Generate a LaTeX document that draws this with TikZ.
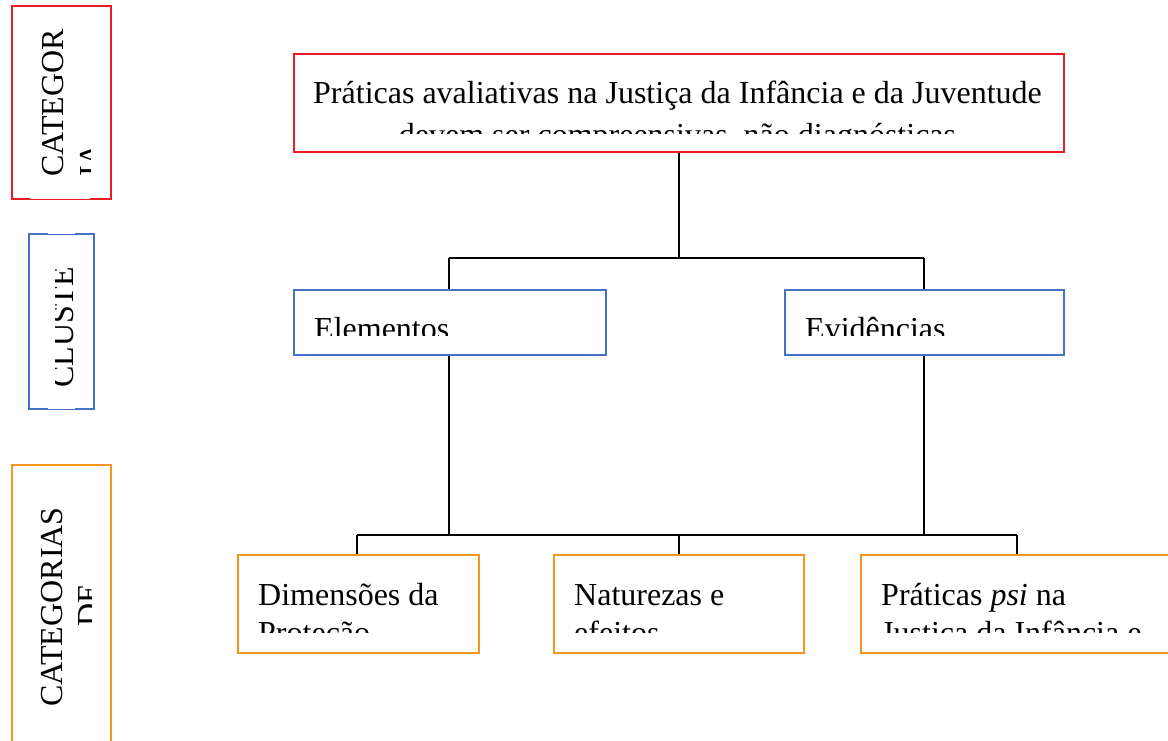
\documentclass[tikz,border=0pt]{standalone}
\usepackage{fontspec}
\setmainfont{Liberation Serif}
\definecolor{bred}{RGB}{237,28,36}
\definecolor{bblue}{RGB}{68,114,196}
\definecolor{borange}{RGB}{247,150,30}
\begin{document}
\begin{tikzpicture}[x=1pt,y=-1pt,
  box/.style={draw, line width=1.5pt, inner sep=0pt, anchor=north west},
  txt/.style={font=\fontsize{32}{38}\selectfont, inner sep=0pt, anchor=base west},
  ttxt/.style={font=\fontsize{32}{38}\selectfont, inner sep=0pt, anchor=base},
  link/.style={draw=black, line width=1.5pt},
  gap/.style={draw=white, line width=2.2pt}]
\clip (0,0) rectangle (1168,740);
\fill[white] (0,0) rectangle (1168,740);

% side boxes
\node[box, draw=bred, minimum width=99pt, minimum height=193pt] (sred) at (11,5) {};
\node[box, draw=bblue, minimum width=65pt, minimum height=175pt] (sblue) at (28,233) {};
\node[box, draw=borange, minimum width=99pt, minimum height=300pt] (sorange) at (11,464) {};

\begin{scope}
  \clip (12,6) rectangle (90,197);
  \node[txt, rotate=90] (sr1) at (63,177) {CATEGOR};
  \node[txt, rotate=90] (sr2) at (101,177) {IA};
\end{scope}
\begin{scope}
  \clip (55,234) rectangle (92,407);
  \node[txt, rotate=90] (sb1) at (73,388) {CLUSTE};
\end{scope}
\begin{scope}
  \clip (12,465) rectangle (91,740);
  \node[txt, rotate=90, anchor=base] (so1) at (62,607) {CATEGORIAS};
  \node[txt, rotate=90, anchor=base] (so2) at (99,605) {DE};
\end{scope}
\draw[gap] (30,198) -- (90,198);
\draw[gap] (48,233) -- (75,233);
\draw[gap] (48,408) -- (75,408);

% main boxes
\node[box, draw=bred, minimum width=770pt, minimum height=98pt] (title) at (293,53) {};
\node[box, draw=bblue, minimum width=312pt, minimum height=65pt] (elem) at (293,289) {};
\node[box, draw=bblue, minimum width=279pt, minimum height=65pt] (evid) at (784,289) {};
\node[box, draw=borange, minimum width=241pt, minimum height=98pt] (dim) at (237,554) {};
\node[box, draw=borange, minimum width=250pt, minimum height=98pt] (nat) at (553,554) {};
\node[box, draw=borange, minimum width=330pt, minimum height=98pt] (prat) at (860,554) {};

% texts
\begin{scope}
  \clip (294,54) rectangle (1062,133);
  \node[ttxt] (t1) at (677.5,103) {Práticas avaliativas na Justiça da Infância e da Juventude};
  \node[ttxt] (t2) at (677.5,145) {devem ser compreensivas, não diagnósticas};
\end{scope}
\begin{scope}
  \clip (294,290) rectangle (604,335);
  \node[txt] (e1) at (314,339) {Elementos};
\end{scope}
\begin{scope}
  \clip (785,290) rectangle (1062,335);
  \node[txt] (v1) at (805,339) {Evidências};
\end{scope}
\begin{scope}
  \clip (238,555) rectangle (477,632);
  \node[txt] (d1) at (258,605) {Dimensões da};
  \node[txt] (d2) at (258,643) {Proteção};
\end{scope}
\begin{scope}
  \clip (554,555) rectangle (802,632);
  \node[txt] (n1) at (574,605) {Naturezas e};
  \node[txt] (n2) at (574,643) {efeitos};
\end{scope}
\begin{scope}
  \clip (861,555) rectangle (1168,632);
  \node[txt] (p1) at (881,605) {Práticas \textit{psi} na};
  \node[txt] (p2) at (881,643) {Justiça da Infância e};
\end{scope}

% connectors
\coordinate (jc) at (679,258);
\coordinate (jl) at (449,258);
\coordinate (jr) at (924,258);
\coordinate (kl) at (357,535);
\coordinate (kc) at (679,535);
\coordinate (kr) at (1017,535);
\coordinate (kel) at (449,535);
\coordinate (kev) at (924,535);
\draw[link] (title.south -| jc) -- (jc);
\draw[link] (jl) -- (jr);
\draw[link] (jl) -- (elem.north -| jl);
\draw[link] (jr) -- (evid.north -| jr);
\draw[link] (elem.south -| jl) -- (kel);
\draw[link] (evid.south -| jr) -- (kev);
\draw[link] (kl) -- (kr);
\draw[link] (kl) -- (dim.north -| kl);
\draw[link] (kc) -- (nat.north -| kc);
\draw[link] (kr) -- (prat.north -| kr);
\end{tikzpicture}
\end{document}
